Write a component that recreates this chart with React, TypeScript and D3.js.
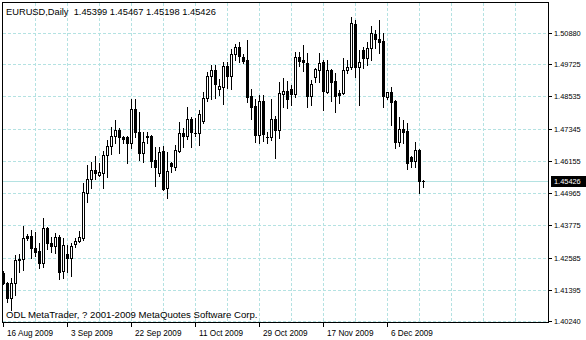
import React from 'react';
import * as d3 from 'd3';

const symbolTitle = 'EURUSD,Daily';
const copyright = 'ODL MetaTrader, ? 2001-2009 MetaQuotes Software Corp.';

const opens = [
  1.42024, 1.41644, 1.41090, 1.41644, 1.42531, 1.42531, 1.43380, 1.43380, 1.42937, 1.42826,
  1.42383, 1.43676, 1.43122, 1.43011, 1.43343, 1.42087, 1.42715, 1.42567, 1.43085, 1.43196,
  1.43306, 1.44969, 1.45486, 1.45819, 1.45634, 1.45708, 1.46373, 1.46705, 1.47075, 1.47296,
  1.47038, 1.47038, 1.46816, 1.48072, 1.47222, 1.46447, 1.47075, 1.47075, 1.46188, 1.45708,
  1.46521, 1.45154, 1.46077, 1.45929, 1.46521, 1.47185, 1.47075, 1.47703, 1.47185, 1.47185,
  1.47629, 1.48479, 1.49291, 1.49513, 1.48822, 1.48896, 1.49661, 1.49291, 1.50104, 1.50374,
  1.50004, 1.49882, 1.48552, 1.48183, 1.47112, 1.48379, 1.47056, 1.47038, 1.47703, 1.47296,
  1.48626, 1.48748, 1.48811, 1.48626, 1.50004, 1.49882, 1.49783, 1.48552, 1.49243, 1.49513,
  1.49797, 1.48711, 1.49513, 1.49118, 1.48674, 1.48652, 1.49513, 1.49613, 1.51212, 1.49635,
  1.50252, 1.49945, 1.50315, 1.50843, 1.50647, 1.50584, 1.48527, 1.48689, 1.48379, 1.46864,
  1.47333, 1.47259, 1.46310, 1.46162, 1.46557, 1.45399,
];
const highs = [
  1.42087, 1.41681, 1.41829, 1.42678, 1.42715, 1.43750, 1.43454, 1.43602, 1.43528, 1.43122,
  1.44045, 1.43713, 1.43343, 1.43491, 1.43417, 1.43306, 1.43048, 1.43122, 1.43306, 1.43565,
  1.45338, 1.46003, 1.46114, 1.46336, 1.46077, 1.46521, 1.46927, 1.47407, 1.47666, 1.47370,
  1.47075, 1.47075, 1.48442, 1.48442, 1.47961, 1.47222, 1.47222, 1.47112, 1.46668, 1.46668,
  1.46705, 1.46484, 1.46114, 1.46742, 1.47592, 1.47370, 1.48146, 1.47777, 1.47740, 1.48035,
  1.48700, 1.49439, 1.49698, 1.49698, 1.49180, 1.49809, 1.49809, 1.50289, 1.50474, 1.50558,
  1.50104, 1.50621, 1.48811, 1.48442, 1.48589, 1.48589, 1.47234, 1.48442, 1.47814, 1.49081,
  1.49217, 1.49118, 1.48959, 1.50189, 1.50189, 1.50437, 1.50141, 1.49144, 1.49587, 1.50152,
  1.49882, 1.49882, 1.49539, 1.49391, 1.48774, 1.49945, 1.49882, 1.51460, 1.51360, 1.50252,
  1.50352, 1.50558, 1.51139, 1.50991, 1.51360, 1.50891, 1.48711, 1.48874, 1.48405, 1.47788,
  1.47666, 1.47544, 1.46336, 1.46864, 1.46583, 1.45467,
];
const lows = [
  1.41607, 1.40942, 1.40646, 1.41201, 1.42050, 1.42124, 1.43232, 1.42567, 1.42641, 1.42198,
  1.42235, 1.42900, 1.42789, 1.42752, 1.41792, 1.41829, 1.42050, 1.41903, 1.42974, 1.43159,
  1.43232, 1.44636, 1.45154, 1.45486, 1.45597, 1.45154, 1.45560, 1.46410, 1.46816, 1.46447,
  1.46816, 1.46077, 1.46631, 1.47038, 1.46188, 1.46114, 1.46816, 1.45929, 1.45227, 1.45597,
  1.45080, 1.44784, 1.45745, 1.45819, 1.46484, 1.46668, 1.46964, 1.46668, 1.47075, 1.46742,
  1.47555, 1.48368, 1.48442, 1.48479, 1.48589, 1.48257, 1.48848, 1.48811, 1.49882, 1.49820,
  1.49783, 1.48342, 1.47703, 1.46864, 1.46816, 1.46901, 1.46827, 1.46927, 1.46262, 1.47001,
  1.48157, 1.48109, 1.48220, 1.48504, 1.49661, 1.49487, 1.48157, 1.48220, 1.49081, 1.49081,
  1.48035, 1.48652, 1.48379, 1.47972, 1.48294, 1.48626, 1.49391, 1.49539, 1.49265, 1.48220,
  1.49576, 1.49698, 1.49882, 1.50315, 1.50152, 1.48157, 1.48431, 1.47481, 1.46620, 1.46705,
  1.46805, 1.45844, 1.45940, 1.45940, 1.44980, 1.45198,
];
const closes = [
  1.41633, 1.41090, 1.41644, 1.42494, 1.42494, 1.43306, 1.43306, 1.42937, 1.42789, 1.42383,
  1.43676, 1.43122, 1.43011, 1.43343, 1.42050, 1.43048, 1.42567, 1.43011, 1.43196, 1.43343,
  1.45006, 1.45486, 1.45819, 1.45708, 1.45745, 1.46373, 1.46705, 1.47075, 1.47296, 1.47038,
  1.46964, 1.46816, 1.48072, 1.47222, 1.46447, 1.46853, 1.47038, 1.46151, 1.45929, 1.46484,
  1.45117, 1.45782, 1.45966, 1.46557, 1.47185, 1.47075, 1.47703, 1.47222, 1.47170, 1.47887,
  1.48479, 1.49291, 1.49513, 1.48996, 1.48922, 1.49661, 1.49291, 1.50104, 1.50374, 1.50041,
  1.49857, 1.48527, 1.48157, 1.47112, 1.48379, 1.47149, 1.47045, 1.47703, 1.47296, 1.48663,
  1.48748, 1.48431, 1.48626, 1.50004, 1.49857, 1.49797, 1.48552, 1.48996, 1.49539, 1.49783,
  1.48748, 1.49513, 1.49081, 1.48552, 1.48600, 1.49513, 1.49613, 1.51238, 1.49613, 1.49797,
  1.49945, 1.50315, 1.50869, 1.50647, 1.50558, 1.48552, 1.48689, 1.48342, 1.46864, 1.47333,
  1.47234, 1.46088, 1.46162, 1.46557, 1.45399, 1.45426,
];

const dateLabels = ['16 Aug 2009', '3 Sep 2009', '22 Sep 2009', '11 Oct 2009', '29 Oct 2009', '17 Nov 2009', '6 Dec 2009'];
const dateLabelBars = [0, 16, 32, 48, 64, 80, 96];
const priceTicks = [1.5088, 1.49725, 1.48535, 1.47345, 1.46155, 1.44965, 1.43775, 1.42585, 1.41395, 1.4024];
const priceTickLabels = ['1.50880', '1.49725', '1.48535', '1.47345', '1.46155', '1.44965', '1.43775', '1.42585', '1.41395', '1.40240'];

const W = 586;
const H = 340;
const FONT = '"Liberation Sans", Arial, sans-serif';
const GRID = '#b4e2e2';

export default function App() {
  const n = opens.length;
  const x = d3.scaleLinear().domain([0, 105]).range([3, 423]);
  const y = d3.scaleLinear().domain([1.4024, 1.5088]).range([321, 33]);
  const ry = (v: number) => Math.round(y(v));
  const last = closes[n - 1];
  const lastRow = ry(last);
  const gridBars = d3.range(8, 129, 8);
  const fmt = d3.format('.5f');

  return (
    <svg width={W} height={H} style={{ position: 'absolute', left: 0, top: 0, background: '#fff' }} shapeRendering="crispEdges">
      <defs>
        <clipPath id="plot">
          <rect x={3} y={3} width={545} height={319} />
        </clipPath>
      </defs>
      <rect x={0} y={0} width={W} height={H} fill="#fff" />
      {/* grid */}
      <g stroke={GRID} strokeWidth={1} strokeDasharray="3,2">
        {gridBars.map((b) => (
          <line key={'v' + b} x1={x(b) + 0.5} x2={x(b) + 0.5} y1={3} y2={322} />
        ))}
        {priceTicks.map((p) => (
          <line key={'h' + p} x1={3} x2={548} y1={ry(p) + 0.5} y2={ry(p) + 0.5} />
        ))}
      </g>
      <rect x={3} y={lastRow} width={545} height={1} fill={GRID} />
      {/* candles */}
      <g clipPath="url(#plot)">
        {opens.map((o, i) => {
          const c = x(i);
          const hi = ry(highs[i]);
          const lo = ry(lows[i]);
          const cl = closes[i];
          const bull = cl > o;
          const top = ry(Math.max(o, cl));
          const bot = ry(Math.min(o, cl));
          return (
            <g key={i}>
              <rect x={c} y={hi} width={1} height={lo - hi + 1} fill="#000" />
              <rect x={c - 1} y={top} width={3} height={bot - top + 1} fill="#000" />
              {bull && bot - top - 1 > 0 && (
                <rect x={c} y={top + 1} width={1} height={bot - top - 1} fill="#fff" />
              )}
            </g>
          );
        })}
      </g>
      {/* frame */}
      <rect x={2.5} y={2.5} width={546} height={320} fill="none" stroke="#000" strokeWidth={1} />
      {/* right axis */}
      {priceTicks.map((p, k) => (
        <g key={'pt' + k}>
          <rect x={549} y={ry(p)} width={3} height={1} fill="#000" />
          <text x={554} y={ry(p) + 3} fontFamily={FONT} fontSize={7.4} fill="#000" shapeRendering="auto">
            {priceTickLabels[k]}
          </text>
        </g>
      ))}
      <rect x={551} y={lastRow - 5} width={35} height={11} fill="#000" />
      <text x={554} y={lastRow + 3} fontFamily={FONT} fontSize={7.4} fill="#fff">
        {fmt(last)}
      </text>
      {/* bottom axis */}
      {dateLabelBars.map((b, k) => (
        <g key={'dt' + k}>
          <rect x={x(b)} y={323} width={1} height={4} fill="#000" />
          <text x={x(b) + 4} y={336} fontFamily={FONT} fontSize={8.2} fill="#000">
            {dateLabels[k]}
          </text>
        </g>
      ))}
      {/* title */}
      <text x={6} y={15} fontFamily={FONT} fontSize={9.3} fill="#000" style={{ whiteSpace: 'pre' }}>
        {`${symbolTitle}  ${fmt(opens[n - 1])} ${fmt(highs[n - 1])} ${fmt(lows[n - 1])} ${fmt(closes[n - 1])}`}
      </text>
      <text x={6} y={317.5} fontFamily={FONT} fontSize={9.6} fill="#000">
        {copyright}
      </text>
    </svg>
  );
}
